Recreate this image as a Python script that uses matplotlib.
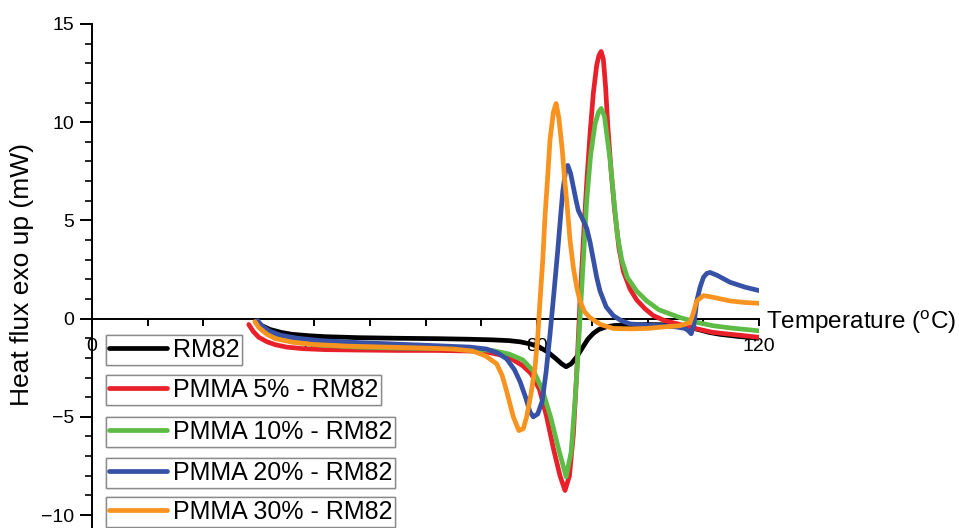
import matplotlib
matplotlib.use("Agg")
import matplotlib.pyplot as plt
from matplotlib.ticker import MultipleLocator, FixedLocator

plt.rcParams['font.family'] = ['Liberation Sans', 'DejaVu Sans']
plt.rcParams['mathtext.fontset'] = 'custom'
plt.rcParams['mathtext.rm'] = 'Liberation Sans'

# ---------------- data ----------------
labels = ["RM82", "PMMA 5% - RM82", "PMMA 10% - RM82", "PMMA 20% - RM82", "PMMA 30% - RM82"]
colors = ["#000000", "#E8202A", "#5DBB46", "#3651A6", "#F7931E"]

t_rm82 = [29.7, 30.5, 32, 34, 36, 39, 42, 48, 55, 62, 68, 72, 75, 77, 79, 80.5, 82, 83.5, 84.5, 85.3,
          86.2, 87.2, 88.2, 89.2, 90.2, 91.2, 92.5, 94, 96, 100, 104, 107, 109, 111, 113, 116, 120]
y_rm82 = [-0.15, -0.35, -0.55, -0.7, -0.8, -0.87, -0.92, -0.97, -1.0, -1.02, -1.05, -1.08, -1.12, -1.18,
          -1.3, -1.45, -1.7, -2.05, -2.3, -2.45, -2.3, -1.95, -1.5, -1.05, -0.75, -0.55, -0.42, -0.35,
          -0.32, -0.3, -0.32, -0.4, -0.55, -0.7, -0.8, -0.9, -1.0]

t_p5 = [28.2, 29, 30, 31.5, 33, 35, 38, 42, 48, 55, 62, 68, 71, 73.5, 75.5, 77.5, 79, 80.5, 81.8, 83,
        84.2, 85.1, 85.9, 86.6, 87.2, 87.8, 88.4, 89, 89.6, 90.2, 90.8, 91.2, 91.6, 92.0, 92.4, 92.8,
        93.4, 94, 94.8, 95.6, 96.8, 98, 99.5, 101, 103, 105.8, 108.5, 111.7, 115, 120]
y_p5 = [-0.3, -0.65, -0.95, -1.18, -1.33, -1.45, -1.53, -1.58, -1.6, -1.62, -1.62, -1.65, -1.7, -1.85,
        -2.05, -2.4, -2.8, -3.6, -5.0, -6.6, -8.0, -8.75, -8.0, -5.9, -2.8, 0.9, 4.0, 6.9, 9.4, 11.5,
        12.9, 13.4, 13.6, 13.2, 11.8, 9.8, 7.5, 5.6, 3.6, 2.4, 1.5, 0.95, 0.5, 0.15, -0.1, -0.3, -0.5,
        -0.7, -0.8, -0.95]

t_p10 = [29.5, 30.5, 32, 34, 37, 41, 48, 55, 62, 68, 72, 75, 77.5, 79.5, 81, 82.5, 84, 85.3, 86.2,
         86.9, 87.4, 87.8, 88.4, 89, 89.7, 90.5, 91.1, 91.6, 92.2, 93.2, 93.9, 94.5, 95.3, 96.3, 98,
         99.8, 102, 105.8, 109, 111.7, 115, 120]
y_p10 = [-0.2, -0.55, -0.85, -1.05, -1.22, -1.35, -1.45, -1.5, -1.52, -1.55, -1.62, -1.8, -2.1, -2.7,
         -3.6, -5.0, -6.7, -8.05, -6.8, -4.2, -2.0, 0.05, 3.0, 6.0, 8.3, 9.9, 10.5, 10.7, 10.3, 8.1,
         6.0, 4.3, 3.0, 2.1, 1.4, 0.9, 0.45, 0.05, -0.2, -0.36, -0.48, -0.62]

t_p20 = [29.8, 30.5, 32, 34, 37, 41, 48, 55, 62, 68, 71, 73, 74.6, 76, 77, 78, 78.8, 79.4, 80.2, 81,
         81.7, 82.4, 83.1, 83.8, 84.3, 84.7, 85.2, 85.6, 86.1, 86.6, 87.1, 87.5, 88.2, 89, 89.6, 90.2,
         90.8, 91.4, 92.5, 93.8, 95.2, 96.8, 100, 102.7, 105, 106.7, 107.3, 107.8, 108.3, 108.8, 109.4,
         110, 110.6, 111.2, 112.5, 114.8, 117.5, 120]
y_p20 = [-0.1, -0.35, -0.65, -0.85, -1.0, -1.12, -1.22, -1.3, -1.38, -1.45, -1.55, -1.75, -2.05, -2.6,
         -3.2, -4.0, -4.75, -5.0, -4.85, -4.2, -2.7, -0.8, 1.3, 3.5, 5.2, 6.5, 7.5, 7.8, 7.4, 6.7, 6.0,
         5.5, 5.1, 4.6, 3.9, 3.0, 2.1, 1.4, 0.6, 0.15, -0.1, -0.27, -0.33, -0.36, -0.42, -0.5, -0.62,
         -0.77, -0.3, 0.9, 1.6, 2.1, 2.3, 2.35, 2.2, 1.85, 1.6, 1.43]

t_p30 = [29.3, 30, 31.5, 33, 36, 40, 46, 53, 60, 65, 68.5, 70.8, 72.8, 73.8, 74.6, 75.8, 76.8, 77.6,
         78.2, 79, 79.7, 80.2, 80.6, 81.1, 81.5, 82, 82.4, 83, 83.5, 84, 84.6, 85, 85.5, 86, 86.6, 87.2,
         87.8, 88.6, 89.6, 91.5, 93.8, 97, 99.8, 103, 105.8, 107.6, 108.2, 108.8, 110, 111.5, 114.8,
         117.5, 120]
y_p30 = [-0.15, -0.45, -0.8, -1.02, -1.2, -1.32, -1.4, -1.45, -1.5, -1.55, -1.65, -1.9, -2.3, -2.9,
         -3.7, -5.0, -5.7, -5.6, -5.0, -3.8, -2.5, -0.9, 0.9, 3.0, 5.2, 7.3, 9.1, 10.5, 10.95, 10.2, 8.6,
         7.2, 5.7, 4.0, 2.6, 1.6, 0.9, 0.35, 0.05, -0.3, -0.5, -0.52, -0.5, -0.42, -0.36, -0.2, 0.3,
         0.9, 1.17, 1.1, 0.9, 0.82, 0.78]

series_t = [t_rm82, t_p5, t_p10, t_p20, t_p30]
series_y = [y_rm82, y_p5, y_p10, y_p20, y_p30]

x_major = [0, 40, 80, 120]
y_major = [-10, -5, 0, 5, 10, 15]

# ---------------- figure ----------------
W, H = 959, 528
fig = plt.figure(figsize=(W / 100, H / 100), dpi=100)
ax = fig.add_axes([92 / W, 0.0, (759 - 92) / W, (H - 24) / H])

lines = []
for t, y, c, lab in zip(series_t, series_y, colors, labels):
    ln, = ax.plot(t, y, color=c, lw=3.4, solid_joinstyle='round', solid_capstyle='round',
                  label=lab, zorder=3)
    lines.append(ln)

ax.set_xlim(0, 120)
ax.set_ylim(-10.66, 15)

ax.spines['top'].set_visible(False)
ax.spines['right'].set_visible(False)
ax.spines['bottom'].set_position(('data', 0))
ax.spines['left'].set_position(('data', 0))
for s in ('bottom', 'left'):
    ax.spines[s].set_linewidth(1.4)
    ax.spines[s].set_zorder(2)

ax.xaxis.set_major_locator(FixedLocator(x_major))
ax.xaxis.set_minor_locator(MultipleLocator(10))
ax.yaxis.set_major_locator(FixedLocator(y_major))
ax.yaxis.set_minor_locator(MultipleLocator(1))
ax.xaxis.set_zorder(1)

ax.tick_params(axis='x', which='both', direction='out', length=5, width=1.4, labelsize=14, pad=9)
ax.tick_params(axis='y', which='major', direction='out', length=9, width=1.4, labelsize=14, pad=4)
ax.tick_params(axis='y', which='minor', direction='out', length=5, width=1.2)

fig.text(22 / W, 1 - 274 / H, "Heat flux exo up (mW)", rotation=90, fontsize=19,
         ha='center', va='center')
fig.text(766 / W, 1 - 322 / H, "Temperature ($^{\\mathrm{o}}$C)", fontsize=17.5,
         ha='left', va='center')

# individual boxed legend entries
tops = [335, 375, 417, 458, 497]
for ln, top in zip(lines, tops):
    leg = fig.legend(handles=[ln], labels=[ln.get_label()], loc='upper left',
                     bbox_to_anchor=(106 / W, 1 - top / H), bbox_transform=fig.transFigure,
                     fontsize=18, frameon=True, fancybox=False, framealpha=1,
                     edgecolor='#8a8a8a', borderpad=0.12, handlelength=2.3,
                     handletextpad=0.25, borderaxespad=0.0)
    leg.get_frame().set_linewidth(1.0)
    fig.add_artist(leg)

fig.savefig("out.png", dpi=100)
